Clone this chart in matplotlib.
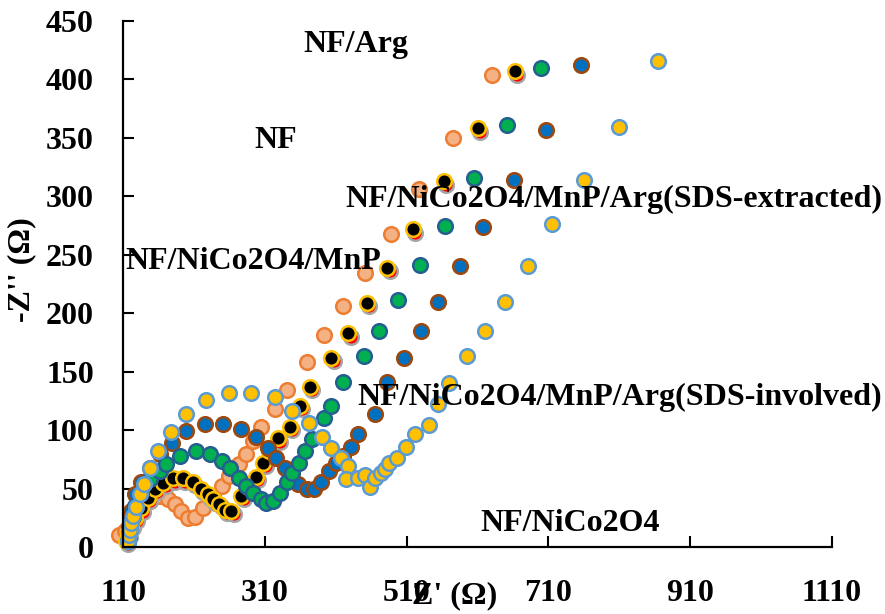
import matplotlib.pyplot as plt

# ---- data: Nyquist plots, Z' and -Z'' in ohm ----
orange_x = [105, 113, 124, 136, 148, 162, 174, 184, 192, 202, 212, 223, 237, 249, 259, 273, 284,
            294, 304, 324, 342, 369, 394, 421, 451, 488, 527, 575, 631]
orange_y = [10, 14, 25, 33, 39, 44, 41, 37, 31, 25, 26, 33, 44, 52, 61, 71, 80,
            91, 103, 118, 134, 158, 181, 206, 234, 268, 306, 350, 404]

red_x = [117, 120, 124, 130, 138, 148, 158, 170, 184, 198, 212, 223, 233, 240, 249, 257, 266,
         280, 290, 301, 311, 319, 332, 348, 362, 377, 407, 431, 457, 486, 522, 566, 614, 666]
red_y = [3, 9, 16, 22, 30, 39, 47, 52, 56, 56, 53, 47, 42, 38, 34, 29, 28,
         41, 48, 57, 69, 79, 90, 100, 118, 134, 159, 180, 206, 236, 269, 310, 355, 404]

black_x = [114, 117, 121, 127, 135, 145, 155, 167, 181, 195, 209, 220, 230, 237, 246, 254, 263,
           277, 287, 298, 308, 316, 329, 345, 359, 374, 404, 428, 454, 483, 519, 563, 611, 663]
black_y = [5, 12, 19, 25, 33, 42, 50, 55, 59, 59, 56, 50, 45, 41, 37, 32, 31,
           44, 51, 60, 72, 82, 93, 103, 121, 137, 162, 183, 209, 239, 272, 313, 358, 407]

blue_x = [118, 118, 121, 127, 135, 148, 162, 179, 199, 225, 251, 277, 298, 314, 326, 339, 346,
          357, 369, 379, 389, 400, 410, 421, 431, 441, 465, 483, 506, 530, 554, 585, 618, 662,
          707, 756]
blue_y = [9, 18, 31, 45, 56, 68, 80, 89, 99, 105, 105, 101, 94, 85, 76, 68, 61,
          54, 50, 50, 56, 65, 72, 78, 86, 97, 114, 141, 162, 185, 210, 240, 274, 314,
          357, 412]

green_x = [117, 118, 121, 127, 136, 148, 162, 171, 191, 213, 233, 249, 261, 273, 284, 294, 304,
           312, 322, 332, 341, 348, 358, 367, 376, 393, 403, 420, 450, 471, 498, 529, 564, 605,
           652, 700]
green_y = [5, 12, 22, 35, 46, 58, 65, 71, 78, 82, 80, 74, 68, 59, 52, 46, 41,
           38, 39, 46, 56, 63, 72, 82, 92, 110, 121, 141, 163, 185, 211, 241, 275, 316,
           361, 410]

gold_x = [117, 119, 120, 121, 124, 128, 134, 140, 148, 160, 177, 199, 227, 259, 291, 324, 348,
          373, 390, 404, 417, 427, 425, 441, 451, 458, 466, 474, 479, 485, 496, 509, 522, 541,
          554, 570, 595, 621, 649, 681, 715, 761, 809, 864]
gold_y = [5, 10, 15, 21, 27, 34, 45, 54, 68, 82, 98, 114, 126, 132, 132, 128, 116,
          106, 94, 85, 76, 69, 58, 59, 62, 51, 59, 63, 67, 72, 76, 86, 97, 104,
          122, 140, 163, 185, 210, 240, 276, 314, 359, 416]

series = [
    (orange_x, orange_y, "#F4B183", "#ED7D31"),
    (red_x, red_y, "#FF0000", "#A5A5A5"),
    (black_x, black_y, "#000000", "#FFC000"),
    (blue_x, blue_y, "#0070C0", "#9E480E"),
    (green_x, green_y, "#00B050", "#255E91"),
    (gold_x, gold_y, "#FFC000", "#5B9BD5"),
]

labels = ["NF/Arg", "NF", "NF/NiCo2O4/MnP/Arg(SDS-extracted)", "NF/NiCo2O4/MnP",
          "NF/NiCo2O4/MnP/Arg(SDS-involved)", "NF/NiCo2O4"]
label_x = [364, 296, 423, 113, 440, 614]
label_y = [430, 348, 297, 244, 128, 20]

x_ticks = [110, 310, 510, 710, 910, 1110]
y_ticks = [0, 50, 100, 150, 200, 250, 300, 350, 400, 450]

plt.rcParams["font.family"] = ["Liberation Serif", "DejaVu Serif"]
plt.rcParams["font.weight"] = "bold"

fig = plt.figure(figsize=(8.85, 6.14), dpi=100)
ax = fig.add_axes([0.139, 0.109, 0.801, 0.857])

for xs, ys, fc, ec in series:
    ax.plot(xs, ys, "o", ms=10.5, mfc=fc, mec=ec, mew=1.8, clip_on=False)

for txt, tx, ty in zip(labels, label_x, label_y):
    ax.text(tx, ty, txt, fontsize=23, fontweight="bold", ha="left", va="center")

ax.set_xlim(110, 1110)
ax.set_ylim(0, 450)
ax.set_xticks(x_ticks)
ax.set_yticks(y_ticks)
ax.tick_params(axis="both", direction="in", length=8, width=1.5, labelsize=23)
ax.tick_params(axis="x", pad=23)
ax.tick_params(axis="y", pad=21)
for lbl in ax.get_xticklabels() + ax.get_yticklabels():
    lbl.set_fontweight("bold")

ax.spines["top"].set_visible(False)
ax.spines["right"].set_visible(False)
ax.spines["left"].set_linewidth(1.6)
ax.spines["bottom"].set_linewidth(1.6)

ax.text(0.468, -0.092, "Z' (Ω)", transform=ax.transAxes, fontsize=23, fontweight="bold",
        ha="center", va="center")
ax.text(-0.143, 0.527, "-Z'' (Ω)", transform=ax.transAxes, fontsize=23, fontweight="bold",
        ha="center", va="center", rotation=90)

plt.savefig("out.png", dpi=100)
